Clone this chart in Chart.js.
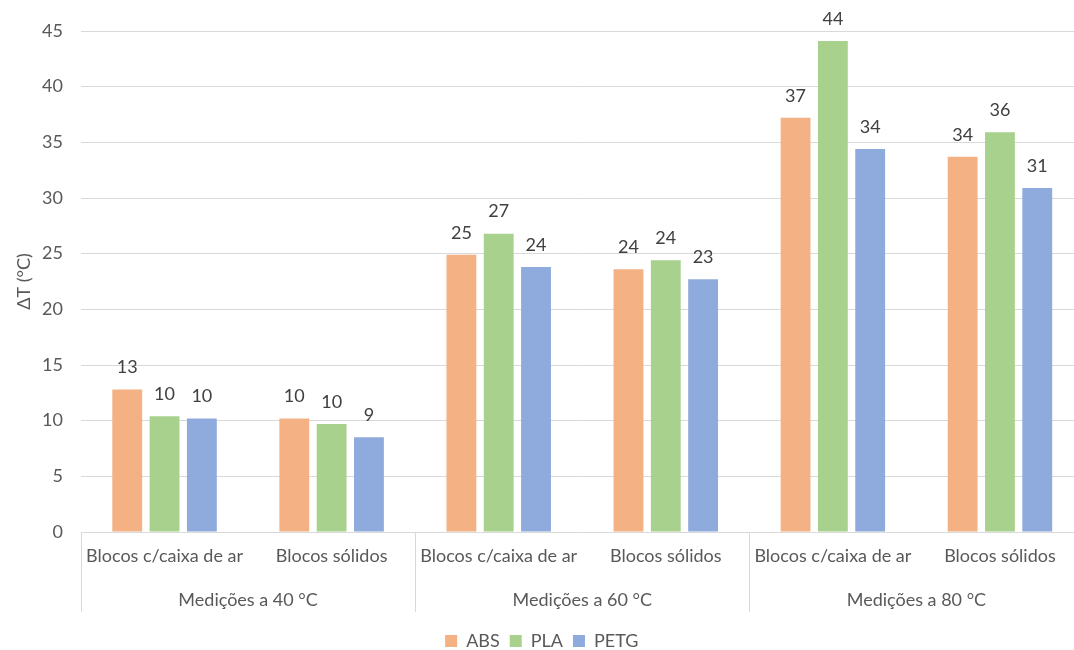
<!DOCTYPE html>
<html>
<head>
<meta charset="utf-8">
<script src="https://cdn.jsdelivr.net/npm/chart.js@4.4.1/dist/chart.umd.min.js"></script>
<style>
  html, body { margin: 0; padding: 0; background: #ffffff; overflow: hidden; }
  #wrap { width: 1074px; height: 650px; overflow: hidden; position: relative; }
  canvas { display: block; }
</style>
</head>
<body>
<div id="wrap"><canvas id="chart" width="1100" height="675"></canvas></div>
<script>
// Temperature difference per block type, grouped by test temperature
const categories = [
  'Blocos c/caixa de ar', 'Blocos sólidos',
  'Blocos c/caixa de ar', 'Blocos sólidos',
  'Blocos c/caixa de ar', 'Blocos sólidos'
];
const groupLabels = ['Medições a 40 °C', 'Medições a 60 °C', 'Medições a 80 °C'];
const groupSize = 2;

const absValues  = [12.8, 10.2, 24.9, 23.6, 37.2, 33.7];
const plaValues  = [10.4,  9.7, 26.8, 24.4, 44.1, 35.9];
const petgValues = [10.2,  8.5, 23.8, 22.7, 34.4, 30.9];

const yMin = 0, yMax = 45, yStep = 5;
const yTitle = 'ΔT (°C)';

const FONT = 'Lato';
const AXIS_COLOR = '#595959';
const LABEL_COLOR = '#404040';
const GRID_COLOR = '#D9D9D9';

// Rounded value above each bar
const valueLabels = {
  id: 'valueLabels',
  afterDatasetsDraw(chart) {
    const ctx = chart.ctx;
    ctx.save();
    ctx.font = '18px ' + FONT;
    ctx.fillStyle = LABEL_COLOR;
    ctx.textAlign = 'center';
    ctx.textBaseline = 'middle';
    chart.data.datasets.forEach((ds, di) => {
      chart.getDatasetMeta(di).data.forEach((bar, i) => {
        ctx.fillText(String(Math.round(ds.data[i])), bar.x, bar.y - 22);
      });
    });
    ctx.restore();
  }
};

// Second level of the category axis: group names and separators
const groupAxis = {
  id: 'groupAxis',
  afterDraw(chart) {
    const x = chart.scales.x;
    const ctx = chart.ctx;
    const half = (x.getPixelForValue(1) - x.getPixelForValue(0)) / 2;
    const top = x.top;
    const lineBottom = top + 80;
    ctx.save();
    ctx.strokeStyle = GRID_COLOR;
    ctx.lineWidth = 1;
    const nGroups = groupLabels.length;
    for (let g = 0; g <= nGroups; g++) {
      const px = g * groupSize < categories.length
        ? x.getPixelForValue(g * groupSize) - half
        : x.getPixelForValue(categories.length - 1) + half;
      const sx = Math.round(px) + 0.5;
      ctx.beginPath();
      ctx.moveTo(sx, top);
      ctx.lineTo(sx, lineBottom);
      ctx.stroke();
    }
    ctx.font = '18px ' + FONT;
    ctx.fillStyle = AXIS_COLOR;
    ctx.textAlign = 'center';
    ctx.textBaseline = 'middle';
    groupLabels.forEach((label, g) => {
      const a = x.getPixelForValue(g * groupSize);
      const b = x.getPixelForValue(g * groupSize + groupSize - 1);
      ctx.fillText(label, (a + b) / 2, top + 68);
    });
    ctx.restore();
  }
};

new Chart(document.getElementById('chart'), {
  type: 'bar',
  data: {
    labels: categories,
    datasets: [
      { label: 'ABS',  data: absValues,  backgroundColor: '#F4B183' },
      { label: 'PLA',  data: plaValues,  backgroundColor: '#A9D18E' },
      { label: 'PETG', data: petgValues, backgroundColor: '#8FAADC' }
    ]
  },
  options: {
    responsive: false,
    animation: false,
    devicePixelRatio: 1,
    categoryPercentage: 0.67,
    barPercentage: 0.8,
    layout: { padding: { top: 31, right: 16.5, bottom: 15, left: 0 } },
    plugins: {
      legend: {
        position: 'bottom',
        labels: {
          boxWidth: 12,
          boxHeight: 12,
          padding: 10,
          color: AXIS_COLOR,
          font: { family: FONT, size: 18 }
        }
      },
      tooltip: { enabled: false }
    },
    scales: {
      x: {
        grid: { display: false, drawTicks: false },
        border: { display: true, color: GRID_COLOR, width: 1 },
        ticks: {
          color: AXIS_COLOR,
          font: { family: FONT, size: 18 },
          padding: 13,
          maxRotation: 0,
          autoSkip: false
        },
        afterFit(scale) { scale.height = 90; }
      },
      y: {
        min: yMin,
        max: yMax,
        ticks: {
          stepSize: yStep,
          color: AXIS_COLOR,
          font: { family: FONT, size: 18 },
          padding: 18
        },
        grid: { color: GRID_COLOR, lineWidth: 1, drawTicks: false },
        border: { display: false },
        title: {
          display: true,
          text: yTitle,
          color: AXIS_COLOR,
          font: { family: FONT, size: 18 },
          padding: { top: 13, bottom: 0 }
        },
        afterFit(scale) { scale.width = 81; }
      }
    }
  },
  plugins: [valueLabels, groupAxis]
});
</script>
</body>
</html>
